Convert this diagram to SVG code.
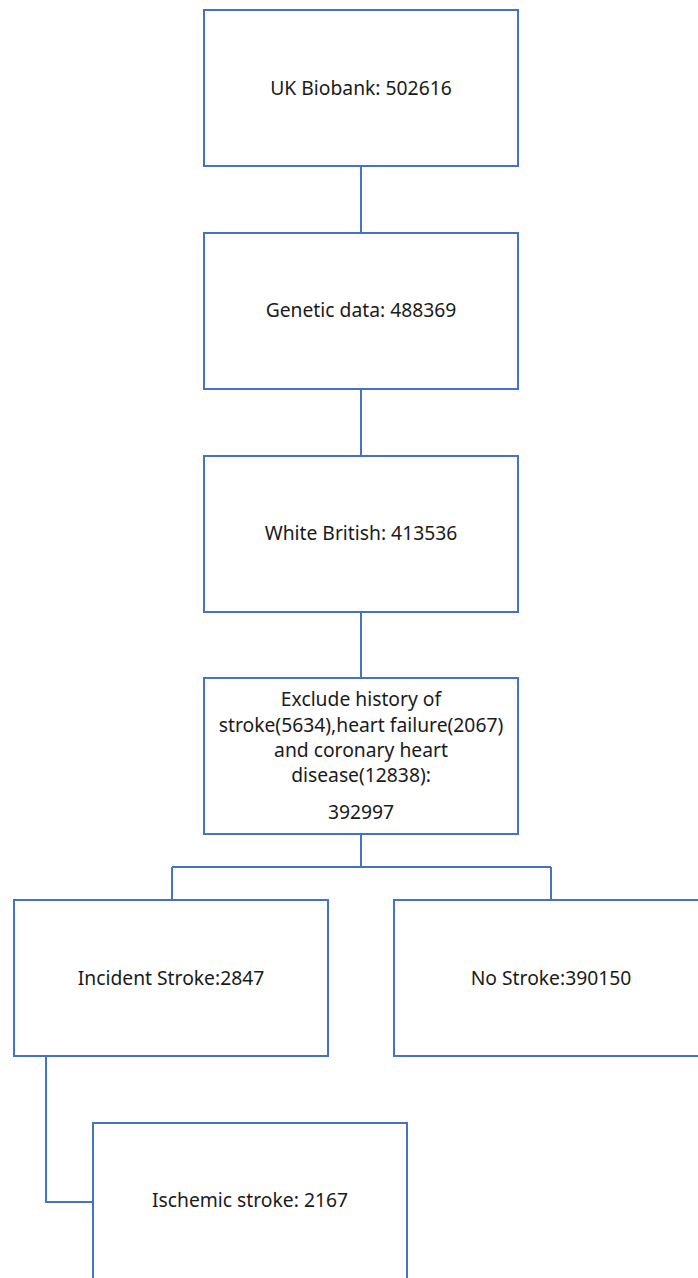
<svg xmlns="http://www.w3.org/2000/svg" width="698" height="1278" viewBox="0 0 698 1278">
<style>
.box{fill:#fff;stroke:#4472C4;stroke-width:2}
.con{fill:none;stroke:#4472C4;stroke-width:2}
text{font-family:"Noto Sans","Liberation Sans",sans-serif;font-size:19.3px;fill:#1a1a1a;text-anchor:middle}
</style>
<rect width="698" height="1278" fill="#fff"/>
<g id="connectors">
<path class="con" d="M361 166V233M361 389V456M361 612V678M361 834V867M172 867H551M172 867V900M551 867V900M46 1057V1202H93"/>
</g>
<g id="n1"><rect class="box" x="204" y="10" width="314" height="156"/><text x="361" y="95">UK Biobank: 502616</text></g>
<g id="n2"><rect class="box" x="204" y="233" width="314" height="156"/><text x="361" y="317">Genetic data: 488369</text></g>
<g id="n3"><rect class="box" x="204" y="456" width="314" height="156"/><text x="361" y="540">White British: 413536</text></g>
<g id="n4"><rect class="box" x="204" y="678" width="314" height="156"/>
<text x="361" y="706">Exclude history of</text>
<text x="361" y="732">stroke(5634),heart failure(2067)</text>
<text x="361" y="757">and coronary heart</text>
<text x="361" y="782">disease(12838):</text>
<text x="361" y="819">392997</text></g>
<g id="n5"><rect class="box" x="14" y="900" width="314" height="156"/><text x="171" y="985">Incident Stroke:2847</text></g>
<g id="n6"><rect class="box" x="394" y="900" width="314" height="156"/><text x="551" y="985">No Stroke:390150</text></g>
<g id="n7"><rect class="box" x="93" y="1123" width="314" height="160"/><text x="250" y="1207">Ischemic stroke: 2167</text></g>
</svg>
